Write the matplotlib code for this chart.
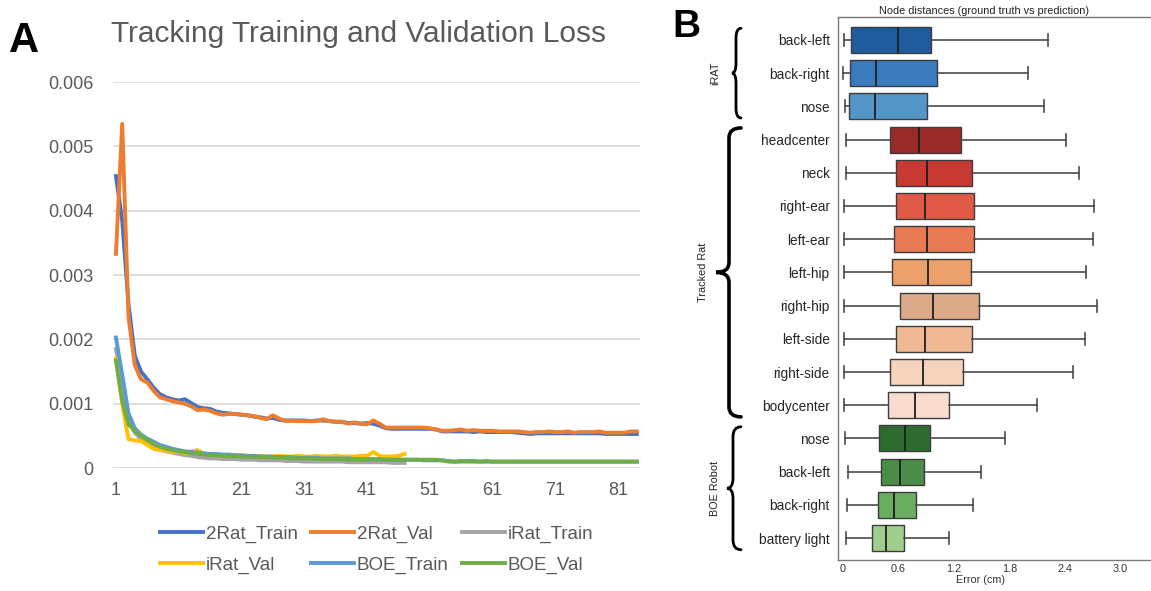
import matplotlib
matplotlib.use("Agg")
import matplotlib.pyplot as plt
import matplotlib.transforms as mtransforms
from matplotlib.path import Path
from matplotlib.patches import PathPatch

plt.rcParams['font.family'] = ['Liberation Sans', 'DejaVu Sans']

# ---------------- Panel A: loss per epoch ----------------
rat2_train = [
    0.00454, 0.00385, 0.00255, 0.00175, 0.00150, 0.00138, 0.00125, 0.00115, 0.00110, 0.00107,
    0.00105, 0.00107, 0.00101, 0.00095, 0.00093, 0.00092, 0.00088, 0.00086, 0.00085, 0.00084,
    0.00083, 0.00082, 0.00080, 0.00079, 0.00077, 0.00078, 0.00075, 0.00074, 0.00074, 0.00074,
    0.00074, 0.00073, 0.00074, 0.00074, 0.00073, 0.00072, 0.00072, 0.00070, 0.00070, 0.00069,
    0.00070, 0.00069, 0.00066, 0.00062, 0.00061, 0.00061, 0.00061, 0.00061, 0.00061, 0.00061,
    0.00061, 0.00060, 0.00057, 0.00057, 0.00057, 0.00057, 0.00057, 0.00056, 0.00057, 0.00056,
    0.00056, 0.00056, 0.00056, 0.00056, 0.00055, 0.00054, 0.00053, 0.00054, 0.00054, 0.00054,
    0.00054, 0.00054, 0.00054, 0.00054, 0.00054, 0.00054, 0.00054, 0.00054, 0.00053, 0.00053,
    0.00053, 0.00053, 0.00053, 0.00053,
]
rat2_val = [
    0.00333, 0.00535, 0.00235, 0.00160, 0.00138, 0.00133, 0.00120, 0.00110, 0.00107, 0.00104,
    0.00102, 0.00100, 0.00096, 0.00090, 0.00091, 0.00089, 0.00085, 0.00083, 0.00084, 0.00084,
    0.00083, 0.00082, 0.00081, 0.00078, 0.00076, 0.00082, 0.00077, 0.00073, 0.00074, 0.00073,
    0.00073, 0.00073, 0.00073, 0.00076, 0.00073, 0.00072, 0.00072, 0.00069, 0.00071, 0.00069,
    0.00068, 0.00074, 0.00069, 0.00063, 0.00063, 0.00063, 0.00063, 0.00063, 0.00063, 0.00063,
    0.00062, 0.00060, 0.00058, 0.00058, 0.00059, 0.00060, 0.00058, 0.00059, 0.00058, 0.00058,
    0.00058, 0.00057, 0.00057, 0.00057, 0.00057, 0.00056, 0.00055, 0.00056, 0.00056, 0.00057,
    0.00056, 0.00056, 0.00057, 0.00055, 0.00056, 0.00056, 0.00056, 0.00057, 0.00055, 0.00055,
    0.00055, 0.00055, 0.00057, 0.00057,
]
irat_train = [
    0.00185, 0.00130, 0.00075, 0.00055, 0.00045, 0.00038, 0.00033, 0.00028, 0.00026, 0.00024,
    0.00022, 0.00020, 0.00019, 0.00017, 0.00016, 0.00015, 0.00015, 0.00014, 0.00014, 0.00014,
    0.00013, 0.00013, 0.00013, 0.00012, 0.00012, 0.00012, 0.00012, 0.00011, 0.00011, 0.00011,
    0.00010, 0.00010, 0.00010, 0.00010, 0.00010, 0.00010, 0.00010, 0.00009, 0.00009, 0.00009,
    0.00009, 0.00009, 0.00009, 0.00009, 0.00008, 0.00008, 0.00008,
]
irat_val = [
    0.00170, 0.00100, 0.00045, 0.00043, 0.00042, 0.00036, 0.00030, 0.00028, 0.00027, 0.00025,
    0.00025, 0.00024, 0.00026, 0.00028, 0.00022, 0.00021, 0.00020, 0.00020, 0.00019, 0.00020,
    0.00019, 0.00019, 0.00018, 0.00019, 0.00018, 0.00018, 0.00019, 0.00018, 0.00018, 0.00019,
    0.00018, 0.00018, 0.00019, 0.00018, 0.00018, 0.00019, 0.00018, 0.00018, 0.00018, 0.00019,
    0.00019, 0.00025, 0.00019, 0.00018, 0.00018, 0.00019, 0.00022,
]
boe_train = [
    0.00203, 0.00145, 0.00085, 0.00062, 0.00052, 0.00046, 0.00041, 0.00036, 0.00033, 0.00030,
    0.00028, 0.00026, 0.00025, 0.00024, 0.00023, 0.00022, 0.00022, 0.00021, 0.00021, 0.00020,
    0.00020, 0.00019, 0.00019, 0.00018, 0.00018, 0.00018, 0.00017, 0.00017, 0.00017, 0.00016,
    0.00016, 0.00016, 0.00016, 0.00015, 0.00015, 0.00015, 0.00015, 0.00015, 0.00014, 0.00014,
    0.00014, 0.00014, 0.00014, 0.00013, 0.00013, 0.00013, 0.00013, 0.00013, 0.00013, 0.00012,
    0.00012, 0.00012, 0.00012, 0.00011, 0.00010, 0.00010, 0.00011, 0.00011, 0.00010, 0.00010,
    0.00010, 0.00010, 0.00010, 0.00010, 0.00010, 0.00010, 0.00010, 0.00010, 0.00010, 0.00010,
    0.00010, 0.00010, 0.00010, 0.00010, 0.00010, 0.00010, 0.00010, 0.00010, 0.00010, 0.00010,
    0.00010, 0.00010, 0.00010, 0.00010,
]
boe_val = [
    0.00167, 0.00105, 0.00068, 0.00058, 0.00050, 0.00044, 0.00038, 0.00033, 0.00030, 0.00028,
    0.00026, 0.00025, 0.00023, 0.00022, 0.00021, 0.00020, 0.00020, 0.00019, 0.00019, 0.00018,
    0.00018, 0.00018, 0.00017, 0.00017, 0.00017, 0.00016, 0.00016, 0.00016, 0.00015, 0.00015,
    0.00015, 0.00015, 0.00014, 0.00014, 0.00014, 0.00014, 0.00014, 0.00013, 0.00013, 0.00013,
    0.00013, 0.00013, 0.00013, 0.00013, 0.00013, 0.00013, 0.00013, 0.00013, 0.00013, 0.00013,
    0.00013, 0.00013, 0.00012, 0.00010, 0.00010, 0.00011, 0.00010, 0.00010, 0.00010, 0.00011,
    0.00010, 0.00010, 0.00010, 0.00010, 0.00010, 0.00010, 0.00010, 0.00010, 0.00010, 0.00010,
    0.00010, 0.00010, 0.00010, 0.00010, 0.00010, 0.00010, 0.00010, 0.00010, 0.00010, 0.00010,
    0.00010, 0.00010, 0.00010, 0.00010,
]

series_names = ['2Rat_Train', '2Rat_Val', 'iRat_Train', 'iRat_Val', 'BOE_Train', 'BOE_Val']
series_colors = ['#4472C4', '#ED7D31', '#A5A5A5', '#FFC000', '#5B9BD5', '#70AD47']
loss_ticks = [0, 0.001, 0.002, 0.003, 0.004, 0.005, 0.006]
loss_tick_labels = ['0', '0.001', '0.002', '0.003', '0.004', '0.005', '0.006']
epoch_ticks = [1, 11, 21, 31, 41, 51, 61, 71, 81]

# ---------------- Panel B: node distance boxplots ----------------
node_labels = ['back-left', 'back-right', 'nose',
               'headcenter', 'neck', 'right-ear', 'left-ear', 'left-hip',
               'right-hip', 'left-side', 'right-side', 'bodycenter',
               'nose', 'back-left', 'back-right', 'battery light']
whisk_lo = [0.01, 0.00, 0.02, 0.03, 0.03, 0.01, 0.01, 0.01, 0.01, 0.01, 0.01, 0.01,
            0.02, 0.05, 0.04, 0.03]
q1 = [0.09, 0.08, 0.065, 0.51, 0.57, 0.57, 0.555, 0.53, 0.61, 0.57, 0.51, 0.49,
      0.39, 0.41, 0.38, 0.31]
med = [0.59, 0.36, 0.34, 0.82, 0.91, 0.89, 0.91, 0.92, 0.97, 0.89, 0.865, 0.78,
       0.67, 0.61, 0.55, 0.46]
q3 = [0.95, 1.02, 0.91, 1.27, 1.39, 1.42, 1.42, 1.38, 1.47, 1.39, 1.30, 1.14,
      0.94, 0.87, 0.79, 0.66]
whisk_hi = [2.22, 2.00, 2.17, 2.41, 2.55, 2.71, 2.70, 2.63, 2.74, 2.62, 2.49, 2.10,
            1.75, 1.49, 1.40, 1.15]
box_colors = ['#1f5c9e', '#3a7bbd', '#5495c8',
              '#9a2a28', '#c63a33', '#e05a47', '#e87a54', '#eba06a',
              '#dcaa88', '#f0b993', '#f5d3bd', '#f7dccf',
              '#2e6b2e', '#4a8c48', '#6aac60', '#a0cf8d']
groups = [('iRAT', 0, 2), ('Tracked Rat', 3, 11), ('BOE Robot', 12, 15)]
error_ticks = [0, 0.6, 1.2, 1.8, 2.4, 3.0]

TEXT_GRAY = '#595959'

fig = plt.figure(figsize=(11.51, 5.91), dpi=100)

# ---- A ----
ax = fig.add_axes([0.098, 0.208, 0.458, 0.653])
epochs_long = range(1, len(rat2_train) + 1)
epochs_short = range(1, len(irat_train) + 1)
all_series = [(epochs_long, rat2_train), (epochs_long, rat2_val),
              (epochs_short, irat_train), (epochs_short, irat_val),
              (epochs_long, boe_train), (epochs_long, boe_val)]
lines = []
for (xs, ys), name, col in zip(all_series, series_names, series_colors):
    ln, = ax.plot(list(xs), ys, color=col, lw=2.8, label=name, solid_joinstyle='round')
    lines.append(ln)

ax.set_xlim(0.5, 84.5)
ax.set_ylim(0, 0.006)
ax.set_yticks(loss_ticks)
ax.set_yticklabels(loss_tick_labels)
ax.set_xticks(epoch_ticks)
ax.grid(axis='y', color='#d9d9d9', lw=1.2)
ax.set_axisbelow(True)
for s in ax.spines.values():
    s.set_visible(False)
ax.tick_params(length=0, labelsize=13, colors=TEXT_GRAY)
ax.tick_params(axis='y', pad=14)
ax.tick_params(axis='x', pad=10)
ax.set_title('Tracking Training and Validation Loss', fontsize=21.5, color=TEXT_GRAY,
             pad=29, loc='center', x=0.467)

# legend filled column-wise, so reorder to read row by row
order = [0, 3, 1, 4, 2, 5]
ax.legend([lines[i] for i in order], [series_names[i] for i in order],
          ncol=3, frameon=False, fontsize=13.5, labelcolor=TEXT_GRAY,
          loc='upper center', bbox_to_anchor=(0.5, -0.105),
          handlelength=2.3, handletextpad=0.15, columnspacing=0.7, labelspacing=0.75)

fig.text(0.008, 0.965, 'A', fontsize=30, fontweight='bold', va='top', ha='left')

# ---- B ----
bx = fig.add_axes([838 / 1151, 1 - 560 / 591, 340 / 1151, (560 - 17) / 591])
stats = []
for i, lab in enumerate(node_labels):
    stats.append(dict(label=lab, whislo=whisk_lo[i], q1=q1[i], med=med[i],
                      q3=q3[i], whishi=whisk_hi[i]))
bp = bx.bxp(stats, positions=list(range(len(stats))), widths=0.78,
            orientation='horizontal', patch_artist=True, showfliers=False,
            capwidths=0.36,
            boxprops=dict(edgecolor='#3c3c3c', linewidth=1.0),
            whiskerprops=dict(color='#4a4a4a', linewidth=1.2),
            capprops=dict(color='#4a4a4a', linewidth=1.2),
            medianprops=dict(color='#1e1e1e', linewidth=1.3))
for patch, col in zip(bp['boxes'], box_colors):
    patch.set_facecolor(col)

bx.set_xlim(-0.055, 3.62)
bx.set_ylim(15.66, -0.69)
bx.set_xticks(error_ticks)
bx.set_xticklabels(['0', '0.6', '1.2', '1.8', '2.4', '3.0'])
bx.tick_params(axis='x', length=0, labelsize=7.8, pad=3, colors='#333333')
bx.tick_params(axis='y', length=0, labelsize=9.8, pad=6, colors='#262626')
bx.set_xlabel('Error (cm)', fontsize=7.8, labelpad=1, color='#333333')
bx.xaxis.set_label_coords((980 - 838) / 340, -0.028)
bx.set_title('Node distances (ground truth vs prediction)', fontsize=7.8, pad=2,
             color='#222222', x=(984 - 838) / 340)
for s in bx.spines.values():
    s.set_color('#7a7a7a')
    s.set_linewidth(1.0)


def draw_brace(ax, y_top, y_bot, x_tip, x_mid, x_end, r, lw):
    """Curly brace in (figure-pixel x, data y) coordinates, tip pointing left."""
    trans = mtransforms.blended_transform_factory(
        mtransforms.Affine2D().scale(1 / 1151, 1) + ax.figure.transFigure, ax.transData)
    y_mid = (y_top + y_bot) / 2
    verts = [(x_end, y_top), (x_mid, y_top), (x_mid, y_top + r),
             (x_mid, y_mid - r),
             (x_mid, y_mid), (x_tip, y_mid),
             (x_mid, y_mid), (x_mid, y_mid + r),
             (x_mid, y_bot - r),
             (x_mid, y_bot), (x_end, y_bot)]
    codes = [Path.MOVETO, Path.CURVE3, Path.CURVE3, Path.LINETO,
             Path.CURVE3, Path.CURVE3, Path.CURVE3, Path.CURVE3,
             Path.LINETO, Path.CURVE3, Path.CURVE3]
    ax.add_patch(PathPatch(Path(verts, codes), transform=trans, fill=False,
                           lw=lw, color='black', clip_on=False, capstyle='round'))


# brace x positions (tip, spine, ends) and group-label x, in figure pixels
brace_x = {'iRAT': (732, 736, 741, 2.0, 715),
           'Tracked Rat': (716, 729, 741, 2.6, 703),
           'BOE Robot': (727, 733, 741, 2.0, 715)}
label_trans = mtransforms.blended_transform_factory(
    mtransforms.Affine2D().scale(1 / 1151, 1) + fig.transFigure, bx.transData)
for name, first, last in groups:
    x_tip, x_mid, x_end, lw, x_lab = brace_x[name]
    draw_brace(bx, first - 0.35, last + 0.35, x_tip, x_mid, x_end, 0.3, lw)
    bx.text(x_lab, (first + last) / 2, name, transform=label_trans, rotation=90,
            ha='center', va='center', fontsize=7.8, color='#222222')

fig.text(0.584, 0.985, 'B', fontsize=28, fontweight='bold', va='top', ha='left')

fig.savefig('out.png', dpi=100)
